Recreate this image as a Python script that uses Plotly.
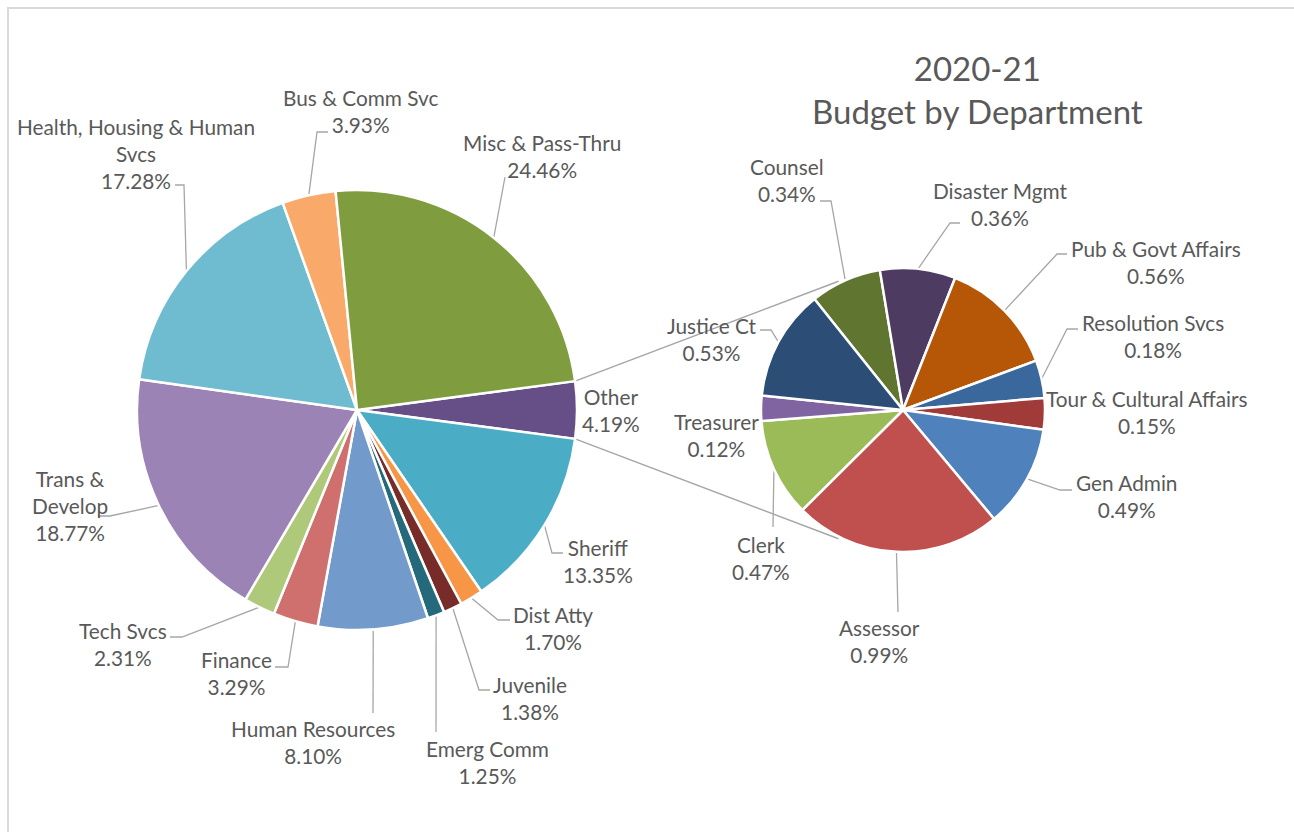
import math
import plotly.graph_objects as go

# ---- data -------------------------------------------------------------
main_labels = ["Other", "Sheriff", "Dist Atty", "Juvenile", "Emerg Comm",
               "Human Resources", "Finance", "Tech Svcs", "Trans & Develop",
               "Health, Housing & Human Svcs", "Bus & Comm Svc", "Misc & Pass-Thru"]
main_values = [4.19, 13.35, 1.70, 1.38, 1.25, 8.10, 3.29, 2.31, 18.77, 17.28, 3.93, 24.46]
main_colors = ["#664F86", "#4BACC6", "#F79646", "#772C2A", "#256A7B", "#729ACA",
               "#D0706E", "#AFC97A", "#9B83B5", "#6FBBD0", "#F9AA6B", "#7F9D3F"]

other_labels = ["Counsel", "Disaster Mgmt", "Pub & Govt Affairs", "Resolution Svcs",
                "Tour & Cultural Affairs", "Gen Admin", "Assessor", "Clerk",
                "Treasurer", "Justice Ct"]
other_values = [0.34, 0.36, 0.56, 0.18, 0.15, 0.49, 0.99, 0.47, 0.12, 0.53]
other_colors = ["#5F7530", "#4D3B62", "#B65708", "#3A679C", "#A03B39", "#4F81BD",
                "#C0504D", "#9BBB59", "#8064A2", "#2C4D75"]

# text shown for each slice (line breaks as drawn)
label_text = {
    "Health, Housing & Human Svcs": "Health, Housing & Human<br>Svcs",
    "Trans & Develop": "Trans &<br>Develop",
}

# ---- geometry (pixels) ------------------------------------------------
W, H = 1294, 832
MAIN_C, MAIN_R = (357, 410), 220
SEC_C, SEC_R = (903, 410), 142
SEC_ROTATION = -38.6
CONNECT_ANGLE = 26.6    # where the link lines meet the secondary pie
TEXT_COLOR = "#595959"
LINE_COLOR = "#A6A6A6"
FONT = "Lato"
LABEL_SIZE = 20.8

# label block centres and leader-line bends (text side first)
label_layout = {
    "Health, Housing & Human Svcs": (136, 153, [(175, 185), (184, 185)]),
    "Bus & Comm Svc": (360, 111, [(328, 132), (317, 132)]),
    "Misc & Pass-Thru": (542, 156, [(505, 177)]),
    "Other": (611, 410, None),
    "Sheriff": (598, 561, [(563, 553), (552, 553)]),
    "Dist Atty": (553, 628, [(510, 620), (498, 620)]),
    "Juvenile": (530, 698, [(490, 690), (479, 690)]),
    "Emerg Comm": (487, 762, [(436, 732)]),
    "Human Resources": (313, 742, [(373, 713)]),
    "Finance": (236, 673, [(275, 667), (288, 667)]),
    "Tech Svcs": (123, 644, [(170, 637), (182, 637)]),
    "Trans & Develop": (70, 506, [(98, 516), (110, 516)]),
    "Counsel": (787, 180, [(820, 201), (831, 201)]),
    "Disaster Mgmt": (1000, 204, [(960, 223), (950, 223)]),
    "Pub & Govt Affairs": (1156, 262, [(1067, 254), (1057, 254)]),
    "Resolution Svcs": (1153, 336, [(1078, 329), (1067, 329)]),
    "Tour & Cultural Affairs": (1147, 412, None),
    "Gen Admin": (1126, 496, [(1072, 490), (1060, 490)]),
    "Assessor": (879, 641, [(898, 612)]),
    "Clerk": (761, 558, [(773, 527)]),
    "Treasurer": (716, 435, None),
    "Justice Ct": (712, 339, [(760, 330), (771, 330)]),
}


def px(x, y):
    return x / W, 1 - y / H


def on_circle(c, r, deg):
    a = math.radians(deg)
    return c[0] + r * math.sin(a), c[1] - r * math.cos(a)


def slice_angles(values, rotation):
    total = sum(values)
    out, start = [], rotation
    for v in values:
        span = v / total * 360
        out.append((start, start + span))
        start += span
    return out


def domain(c, r):
    x0, y1 = px(c[0] - r, c[1] - r)
    x1, y0 = px(c[0] + r, c[1] + r)
    return dict(x=[x0, x1], y=[y0, y1])


main_rotation = 90 - main_values[0] / sum(main_values) * 360 / 2
main_ang = slice_angles(main_values, main_rotation)
sec_ang = slice_angles(other_values, SEC_ROTATION)

fig = go.Figure()
fig.add_trace(go.Pie(
    labels=main_labels, values=main_values, sort=False, direction="clockwise",
    rotation=main_rotation, textinfo="none", hoverinfo="label+percent",
    marker=dict(colors=main_colors, line=dict(color="white", width=2.5)),
    domain=domain(MAIN_C, MAIN_R), showlegend=False,
))
fig.add_trace(go.Pie(
    labels=other_labels, values=other_values, sort=False, direction="clockwise",
    rotation=SEC_ROTATION, textinfo="none", hoverinfo="label+value",
    marker=dict(colors=other_colors, line=dict(color="white", width=2.5)),
    domain=domain(SEC_C, SEC_R), showlegend=False,
))

shapes, annotations = [], []


def line_path(points):
    d = ""
    for i, (x, y) in enumerate(points):
        u, v = px(x, y)
        d += ("M" if i == 0 else "L") + f"{u:.5f},{v:.5f} "
    return d.strip()


# link lines from the "Other" slice to the secondary pie
o_start, o_end = main_ang[0]
for edge, sec_deg in ((o_start, -CONNECT_ANGLE), (o_end, 180 + CONNECT_ANGLE)):
    p0 = on_circle(MAIN_C, MAIN_R, edge)
    p1 = on_circle(SEC_C, SEC_R + 2, sec_deg)
    shapes.append(dict(type="path", path=line_path([p0, p1]), xref="paper", yref="paper",
                       line=dict(color=LINE_COLOR, width=1.5), layer="below"))


def add_labels(names, values, angles, c, r):
    for name, val, (a0, a1) in zip(names, values, angles):
        cx, cy, bends = label_layout[name]
        txt = label_text.get(name, name) + f"<br>{val:.2f}%"
        x, y = px(cx, cy)
        annotations.append(dict(text=txt, x=x, y=y, xref="paper", yref="paper",
                                xanchor="center", yanchor="middle", align="center",
                                showarrow=False,
                                font=dict(family=FONT, size=LABEL_SIZE, color=TEXT_COLOR)))
        if bends:
            anchor = on_circle(c, r, (a0 + a1) / 2)
            shapes.append(dict(type="path", path=line_path(list(bends) + [anchor]),
                               xref="paper", yref="paper",
                               line=dict(color=LINE_COLOR, width=1.3), layer="below"))


add_labels(main_labels, main_values, main_ang, MAIN_C, MAIN_R)
add_labels(other_labels, other_values, sec_ang, SEC_C, SEC_R)

# chart title
tx, ty = px(977, 89)
annotations.append(dict(text="2020-21<br>Budget by Department", x=tx, y=ty,
                        xref="paper", yref="paper", xanchor="center", yanchor="middle",
                        align="center", showarrow=False,
                        font=dict(family=FONT, size=33, color=TEXT_COLOR)))

# chart-area frame (left and top edges fall inside the page)
frame = [(8, H + 10), (8, 8), (W + 10, 8)]
shapes.append(dict(type="path", path=line_path(frame), xref="paper", yref="paper",
                   line=dict(color="#D9D9D9", width=2), layer="below"))

fig.update_layout(
    width=W, height=H, autosize=False,
    margin=dict(l=0, r=0, t=0, b=0),
    paper_bgcolor="white", plot_bgcolor="white",
    shapes=shapes, annotations=annotations,
    font=dict(family=FONT, color=TEXT_COLOR),
)

# the page holds exactly one chart, so no scrolling is needed
fig.write_html("out.html", post_script="document.body.style.overflow = 'hidden';")
